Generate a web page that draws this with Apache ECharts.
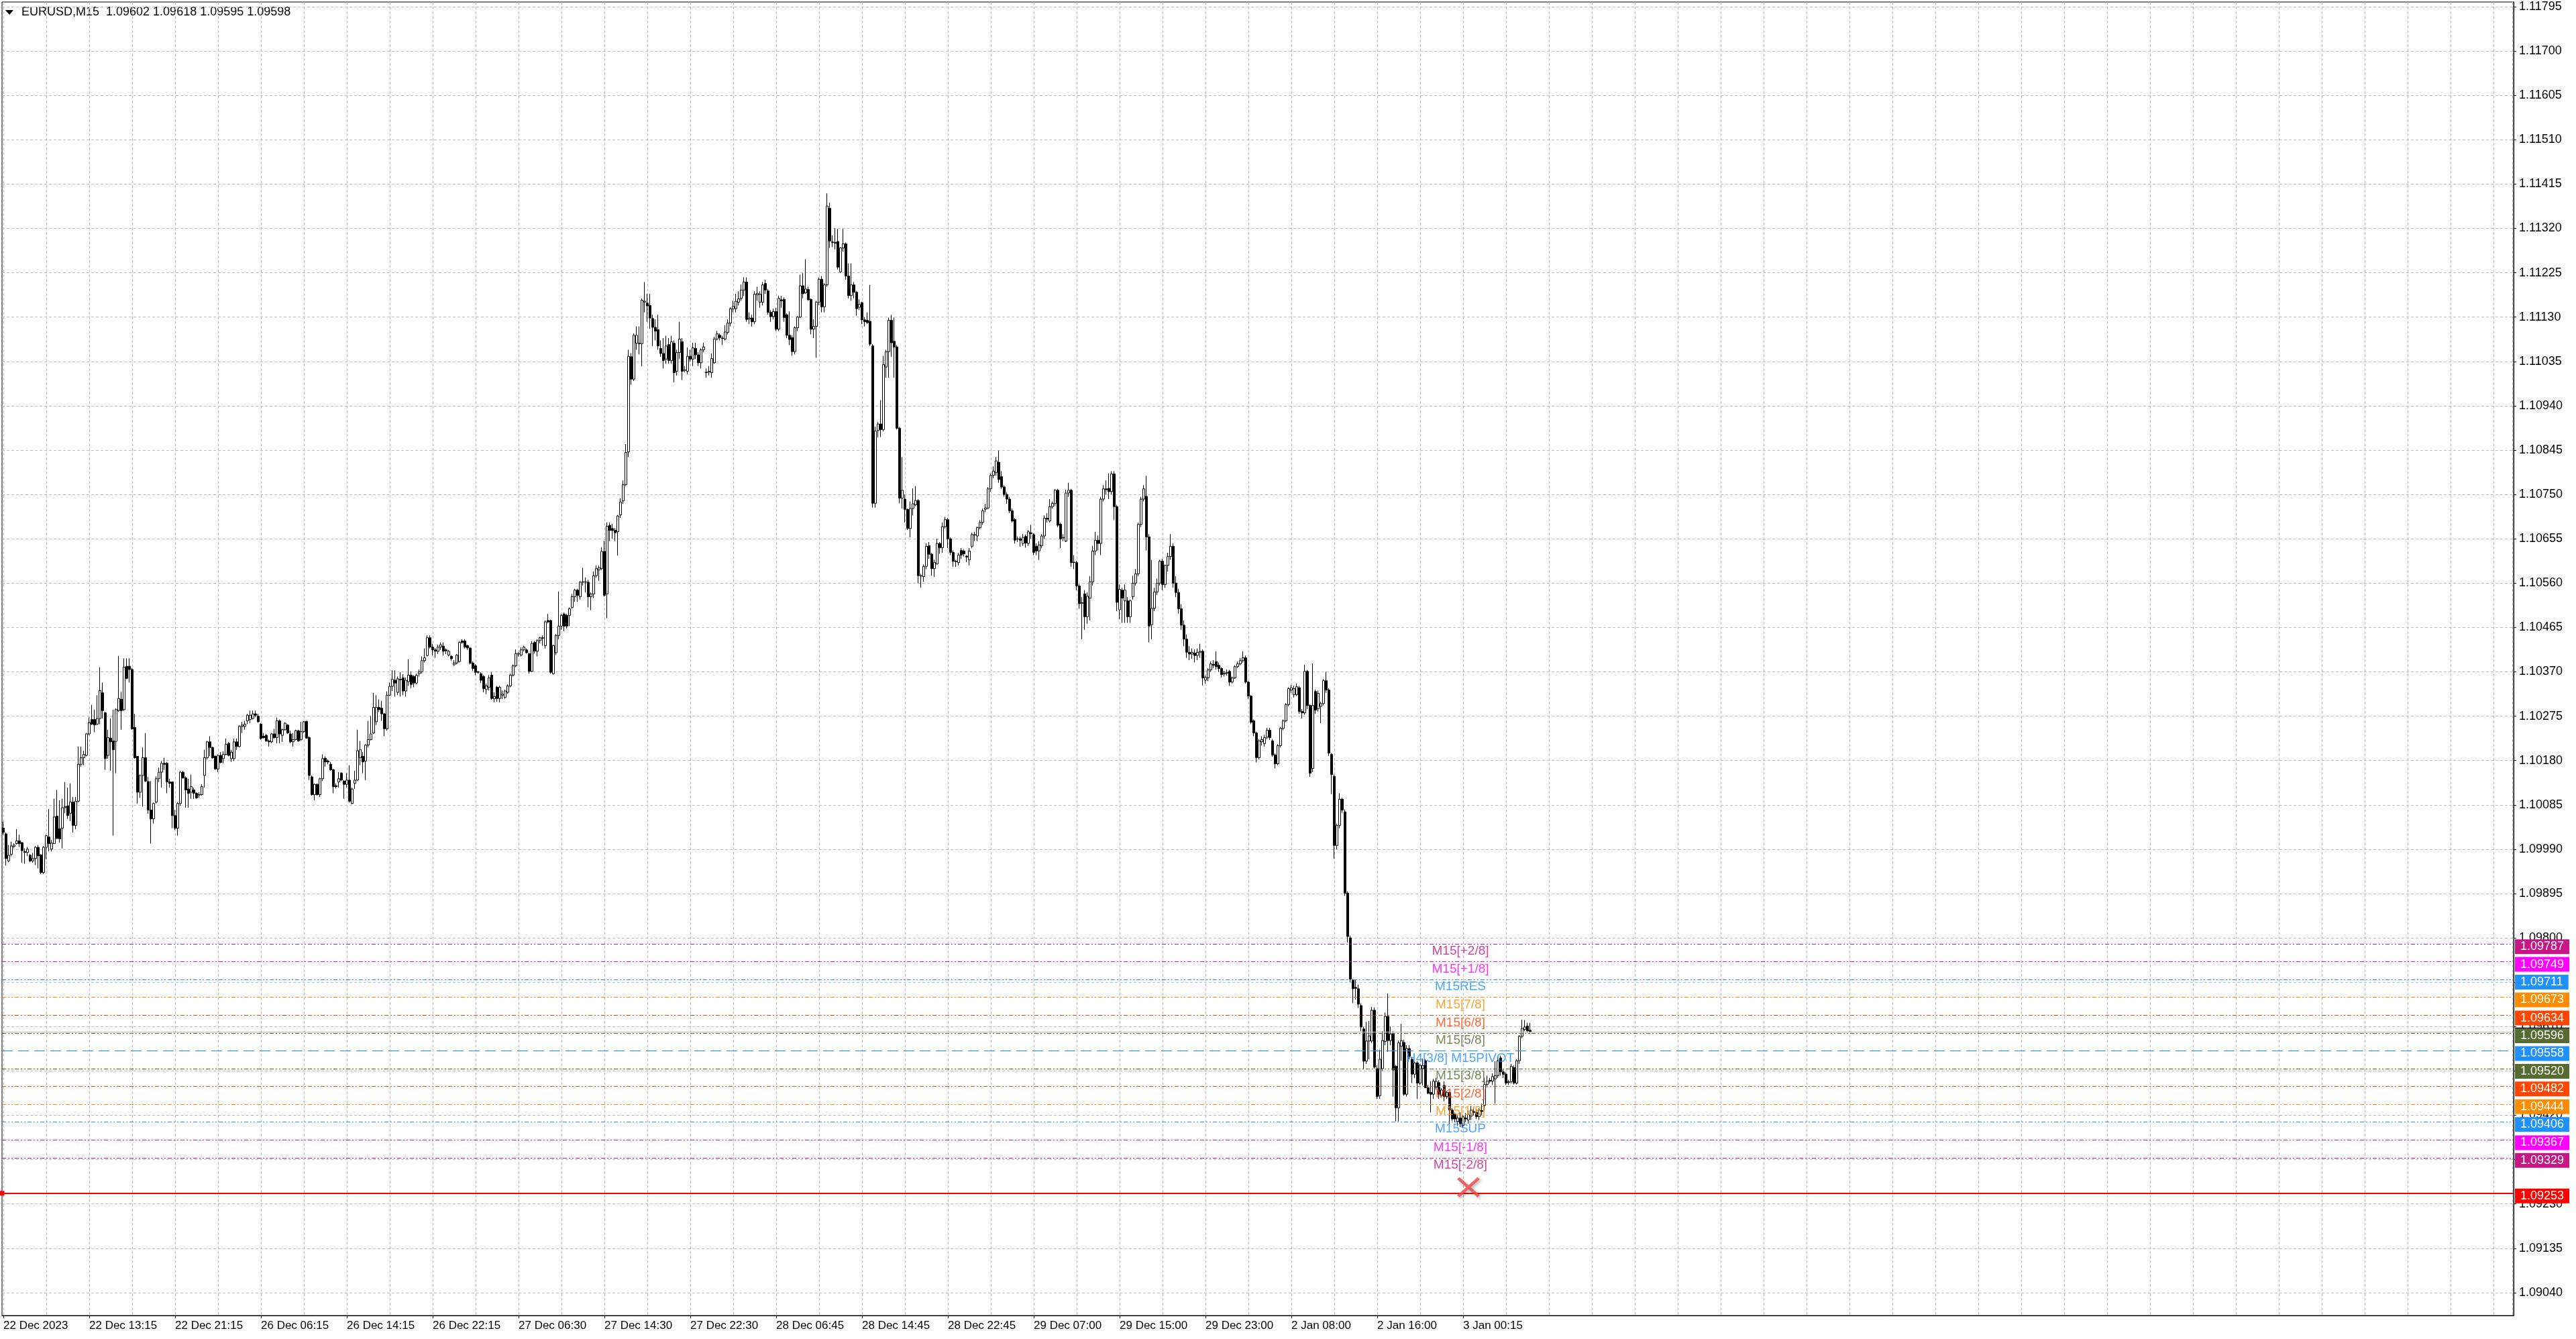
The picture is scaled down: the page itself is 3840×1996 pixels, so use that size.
<!DOCTYPE html>
<html><head><meta charset="utf-8">
<script src="https://cdn.jsdelivr.net/npm/echarts@6/dist/echarts.min.js"></script>
<style>html,body{margin:0;padding:0;background:#fff}#c{width:3840px;height:1996px}</style>
</head><body><div id="c"></div>
<script>
const SYMBOL = 'EURUSD,M15';
const PRICE_BASE = 1.09; // bar values below are points (0.00001) above this base, as [open, close, low, high]

const segA = [
[1035,1026,1021,1049],[1023,970,955,1026],[965,977,962,999],[979,997,975,1006],[996,999,992,1003],[1002,1008,1000,1033],[1008,1002,995,1021],[1004,987,961,1006],[985,983,959,992],[983,990,975,995],
[977,965,962,980],[965,970,961,982],[970,994,956,997],[994,976,949,999],[978,940,937,980],[940,994,937,997],[994,1019,969,1021],[1016,1002,985,1076],[990,1003,985,1010],[1002,1059,1002,1098],
[1061,1013,1012,1117],[1034,1012,1004,1095],[1035,1079,992,1098],[1079,1081,1067,1134],[1083,1062,1055,1122],[1067,1091,1050,1131],[1091,1041,1026,1102],[1041,1093,1033,1102],[1093,1172,1090,1210],[1172,1186,1167,1210],
[1186,1193,1170,1201],[1191,1237,1189,1239],[1237,1261,1234,1272],[1268,1258,1256,1299],[1268,1256,1241,1289],[1258,1270,1256,1320],[1270,1330,1258,1380],[1325,1287,1270,1347],[1282,1184,1160,1284],[1191,1229,1184,1246],
[1228,1220,1158,1270],[1222,1203,1019,1289],[1221,1289,1153,1292],[1287,1313,1284,1404],[1311,1287,1246,1327],[1289,1380,1286,1399],[1382,1356,1354,1399],[1382,1375,1347,1399],[1375,1248,1246,1378],[1251,1186,1184,1280],
[1189,1112,1088,1189],[1112,1148,1100,1150],[1148,1186,1081,1208],[1186,1136,1134,1239],[1135,1074,1066,1145],[1074,1055,1002,1136],[1055,1088,1045,1090],[1091,1141,1088,1146],[1141,1155,1134,1165],[1155,1174,1122,1179],
[1174,1172,1160,1186],[1174,1134,1110,1177],[1134,1131,1122,1141],[1134,1062,1035,1135],[1062,1035,1031,1074],[1035,1088,1019,1091],[1088,1155,1083,1158],[1155,1143,1141,1158],[1143,1117,1079,1146],[1119,1110,1079,1141],
[1112,1124,1098,1150],[1117,1110,1098,1122],[1110,1100,1098,1112],[1106,1107,1100,1112],[1107,1124,1105,1129],[1148,1186,1122,1203],[1186,1220,1182,1222],[1220,1208,1189,1232],[1208,1186,1184,1210],[1189,1162,1160,1191],
[1162,1191,1155,1193],[1191,1176,1174,1198],[1184,1193,1174,1200],[1193,1215,1191,1227],[1217,1191,1189,1220],[1184,1198,1177,1203],[1184,1220,1179,1227],[1220,1210,1203,1227],[1210,1253,1208,1256],[1253,1256,1239,1263],
[1253,1258,1246,1265],[1265,1277,1258,1280],[1268,1277,1260,1287],[1270,1280,1268,1287],[1280,1277,1273,1287],[1275,1263,1261,1280]
];
const segB = [
[1258,1227,1225,1260],[1232,1229,1227,1239],[1234,1222,1220,1237],[1222,1220,1210,1225],[1220,1237,1217,1239],[1237,1229,1227,1248],[1229,1265,1217,1272],[1265,1237,1217,1268],[1234,1246,1220,1248],[1246,1260,1244,1262],
[1256,1239,1237,1258],[1237,1220,1217,1244],[1220,1225,1210,1239],[1225,1244,1223,1246],[1244,1222,1220,1246],[1225,1242,1222,1263],[1242,1263,1239,1265],[1264,1228,1227,1265],[1229,1148,1138,1232],[1145,1107,1105,1148],
[1107,1129,1095,1131],[1129,1107,1105,1131],[1107,1141,1102,1143],[1141,1184,1136,1193],[1185,1177,1167,1189],[1179,1177,1172,1182],[1172,1160,1158,1177],[1160,1124,1110,1162],[1126,1124,1120,1131],[1134,1141,1122,1155],
[1153,1138,1136,1155],[1136,1129,1098,1138],[1129,1138,1122,1153],[1138,1093,1090,1170],[1088,1119,1086,1122],[1131,1138,1119,1158],[1138,1201,1136,1246],[1186,1203,1170,1222],[1189,1177,1153,1198],[1179,1213,1138,1215],
[1213,1225,1208,1265],[1225,1237,1223,1275],[1239,1294,1237,1325],[1263,1294,1256,1320],[1294,1289,1284,1311],[1292,1280,1265,1308],[1280,1248,1232,1282],[1248,1320,1244,1328],[1320,1339,1318,1347],[1339,1354,1329,1373],
[1352,1346,1317,1373],[1326,1355,1320,1360],[1353,1354,1317,1369],[1357,1329,1320,1365],[1329,1352,1317,1358],[1349,1363,1340,1397],[1363,1343,1335,1371],[1360,1346,1337,1363],[1346,1363,1343,1366],[1366,1370,1360,1375],
[1370,1394,1366,1403],[1394,1400,1390,1420],[1405,1443,1403,1448],[1443,1423,1420,1448],[1423,1417,1405,1430],[1417,1414,1400,1421],[1414,1423,1408,1428],[1423,1428,1417,1433],[1425,1414,1405,1433],[1417,1415,1408,1420],
[1406,1414,1403,1417],[1403,1398,1394,1406],[1385,1389,1383,1395],[1389,1406,1386,1408],[1392,1433,1390,1436],[1436,1433,1430,1440],[1436,1423,1420,1440],[1426,1421,1417,1428],[1421,1389,1386,1423],[1389,1377,1372,1392],
[1383,1369,1363,1386],[1370,1369,1366,1372],[1366,1352,1346,1369],[1360,1334,1326,1363],[1332,1340,1322,1345],[1337,1357,1330,1363],[1363,1313,1310,1369],[1312,1317,1305,1326],[1337,1313,1306,1340],[1313,1337,1305,1340],
[1320,1322,1312,1330],[1315,1329,1312,1332],[1326,1340,1323,1343],[1340,1363,1337,1366],[1363,1383,1360,1386],[1383,1409,1380,1418]
];
const segC = [
[1408,1409,1403,1412],[1406,1417,1403,1423],[1417,1423,1414,1426],[1417,1411,1409,1420],[1409,1371,1366,1411],[1371,1431,1369,1436],[1433,1414,1409,1436],[1414,1437,1403,1440],[1437,1443,1431,1445],[1442,1443,1426,1448],
[1426,1477,1420,1480],[1480,1477,1474,1494],[1480,1369,1366,1482],[1366,1426,1364,1428],[1411,1448,1406,1451],[1448,1468,1440,1542],[1468,1491,1460,1494],[1494,1468,1457,1497],[1491,1468,1463,1494],[1491,1505,1468,1508],
[1508,1531,1505,1537],[1531,1545,1520,1548],[1545,1534,1520,1548],[1531,1562,1525,1565],[1562,1563,1555,1593],[1563,1562,1540,1572],[1562,1531,1508,1567],[1531,1537,1502,1540],[1537,1576,1528,1585],[1576,1591,1572,1598],
[1588,1593,1565,1598],[1591,1628,1588,1637],[1628,1534,1531,1651],[1537,1682,1485,1690],[1684,1673,1650,1690],[1677,1673,1655,1687],[1673,1668,1650,1678],[1670,1704,1619,1706],[1706,1734,1700,1742],[1736,1771,1730,1780],
[1771,1840,1768,1858],[1841,2046,1830,2060],[2045,1997,1985,2053],[1997,2091,1993,2095],[2074,2091,2060,2110],[2073,2074,2050,2110],[2073,2166,2025,2170],[2162,2164,2140,2205],[2160,2154,2120,2180],[2155,2128,2105,2180],
[2127,2108,2068,2135],[2108,2100,2080,2125],[2103,2068,2060,2135],[2063,2052,2045,2080],[2052,2037,2020,2085],[2040,2068,2030,2090],[2071,2037,2030,2085],[2037,2077,2030,2090],[2074,2011,1990,2080],[2014,2054,2005,2060],
[2054,2083,2040,2120],[2077,2014,1995,2085],[2016,2017,2012,2025],[2014,2046,2008,2065],[2046,2040,2035,2060],[2040,2064,2025,2075],[2063,2049,2040,2075],[2049,2032,2025,2055],[2032,2060,2020,2063],[2060,2066,2055,2075],
[2012,2011,2000,2020],[2012,2014,2005,2025],[2011,2041,2000,2052],[2032,2083,2030,2088],[2083,2094,2080,2100],[2091,2086,2080,2095],[2085,2084,2070,2090],[2083,2098,2080,2113],[2097,2117,2093,2125],[2117,2148,2110,2151],
[2148,2153,2140,2165],[2148,2164,2140,2180],[2162,2169,2155,2185],[2170,2188,2165,2200],[2188,2205,2175,2215],[2205,2125,2120,2215],[2126,2128,2115,2140],[2128,2120,2110,2135],[2120,2179,2115,2185],[2178,2181,2165,2195],
[2162,2179,2150,2185],[2162,2199,2155,2205],[2202,2188,2180,2210],[2186,2140,2135,2190],[2140,2131,2120,2145],[2131,2142,2125,2148]
];
const segD = [
[2142,2104,2100,2150],[2104,2170,2100,2176],[2167,2165,2150,2175],[2168,2129,2120,2172],[2135,2091,2085,2138],[2091,2082,2070,2142],[2086,2056,2047,2091],[2056,2107,2050,2110],[2107,2130,2100,2132],[2130,2197,2128,2221],
[2197,2180,2170,2224],[2182,2190,2180,2254],[2189,2167,2165,2195],[2168,2104,2093,2170],[2104,2110,2085,2125],[2110,2162,2043,2165],[2162,2211,2155,2215],[2211,2152,2140,2218],[2152,2199,2140,2203],[2199,2368,2195,2395],
[2363,2293,2278,2375],[2291,2290,2280,2305],[2290,2288,2275,2320],[2292,2237,2232,2319],[2227,2278,2225,2280],[2278,2287,2270,2319],[2287,2218,2210,2290],[2218,2176,2170,2245],[2176,2199,2165,2245],[2199,2183,2170,2205],
[2183,2148,2133,2186],[2151,2157,2145,2168],[2161,2124,2115,2163],[2124,2120,2110,2130],[2123,2118,2115,2140],[2121,2072,2068,2199],[2068,1731,1722,2072],[1731,1886,1722,1895],[1887,1901,1872,1905],[1901,1889,1873,1952],
[1889,2028,1885,2047],[2023,2056,2000,2060],[2056,2123,2000,2129],[2123,2075,2045,2135],[2078,2066,2000,2129],[2066,1892,1889,2070],[1892,1742,1731,1895],[1742,1759,1720,1830],[1740,1718,1690,1750],[1718,1677,1674,1720],
[1677,1720,1658,1735],[1720,1730,1705,1763],[1728,1737,1725,1768],[1737,1576,1560,1740],[1576,1575,1550,1580],[1574,1596,1563,1600],[1596,1639,1590,1645],[1640,1622,1612,1648],[1622,1591,1576,1625],[1591,1604,1573,1610],
[1601,1645,1600,1655],[1645,1636,1623,1648],[1636,1681,1625,1690],[1681,1696,1677,1702],[1696,1655,1635,1700],[1655,1626,1620,1658],[1626,1607,1595,1630],[1607,1606,1595,1610],[1604,1620,1598,1625],[1630,1620,1612,1635],
[1629,1623,1617,1632],[1618,1616,1605,1620],[1610,1629,1598,1635],[1639,1664,1635,1668],[1663,1664,1650,1670],[1661,1679,1650,1681],[1679,1690,1675,1695],[1690,1715,1685,1720],[1718,1721,1712,1730],[1721,1762,1718,1766],
[1762,1791,1756,1795],[1791,1800,1785,1810],[1797,1822,1790,1830],[1819,1782,1775,1844],[1788,1766,1762,1800],[1766,1750,1745,1770],[1750,1740,1730,1755],[1740,1715,1710,1745],[1715,1693,1690,1720],[1696,1652,1645,1700],
[1655,1654,1648,1660],[1655,1652,1638,1660],[1645,1658,1640,1665],[1660,1646,1636,1664],[1645,1670,1640,1674],[1668,1666,1655,1685]
];
const segE = [
[1664,1626,1620,1667],[1639,1629,1620,1645],[1629,1642,1610,1650],[1640,1661,1635,1665],[1661,1699,1655,1705],[1699,1697,1690,1710],[1693,1724,1690,1740],[1724,1731,1720,1735],[1731,1759,1725,1762],[1759,1684,1680,1762],
[1686,1655,1635,1690],[1657,1658,1650,1665],[1650,1753,1648,1760],[1753,1759,1745,1775],[1759,1604,1595,1762],[1605,1604,1590,1620],[1604,1554,1545,1608],[1554,1516,1505,1558],[1518,1517,1440,1530],[1537,1488,1460,1545],
[1488,1532,1473,1540],[1528,1563,1480,1575],[1563,1629,1555,1640],[1629,1652,1620,1670],[1652,1645,1630,1662],[1645,1740,1620,1745],[1740,1762,1735,1770],[1762,1760,1750,1780],[1763,1756,1740,1795],[1756,1794,1750,1800],
[1794,1724,1695,1800],[1724,1519,1500,1728],[1503,1547,1483,1557],[1545,1528,1475,1550],[1522,1545,1475,1557],[1522,1488,1475,1530],[1488,1522,1475,1525],[1531,1560,1525,1576],[1560,1580,1555,1590],[1580,1686,1575,1690],
[1686,1740,1680,1745],[1740,1762,1735,1770],[1746,1659,1630,1790],[1659,1468,1433,1665],[1471,1506,1440,1610],[1506,1541,1500,1550],[1541,1560,1535,1570],[1560,1607,1555,1610],[1607,1557,1545,1612],[1557,1598,1550,1600],
[1598,1617,1585,1625],[1617,1639,1610,1665],[1639,1560,1550,1645],[1560,1540,1530,1575],[1540,1505,1495,1548],[1505,1470,1460,1515],[1470,1440,1425,1480],[1440,1412,1400,1450],[1412,1408,1395,1425],[1408,1412,1398,1420],
[1410,1405,1390,1418],[1405,1412,1395,1420],[1412,1414,1400,1430],[1414,1357,1341,1418],[1352,1358,1345,1362],[1357,1374,1350,1378],[1374,1387,1370,1392],[1386,1384,1378,1395],[1392,1381,1375,1414],[1384,1377,1370,1390],
[1377,1364,1358,1380],[1365,1367,1360,1372],[1367,1369,1362,1375],[1371,1348,1340,1374],[1348,1357,1345,1360],[1357,1381,1355,1384],[1381,1387,1378,1392],[1387,1394,1384,1400],[1394,1400,1390,1414],[1400,1348,1345,1405],
[1348,1318,1312,1350],[1318,1262,1258,1320],[1265,1239,1232,1268],[1239,1186,1176,1242],[1186,1222,1182,1226],[1220,1225,1212,1232],[1216,1229,1210,1235],[1230,1245,1226,1250],[1245,1229,1224,1250],[1222,1192,1188,1226],
[1192,1173,1163,1195],[1173,1212,1170,1215],[1212,1249,1208,1252],[1249,1265,1245,1268],[1265,1300,1262,1303],[1300,1334,1296,1337]
];
const segF = [
[1331,1336,1325,1342],[1321,1334,1315,1340],[1321,1338,1318,1345],[1336,1285,1280,1340],[1285,1282,1270,1290],[1282,1371,1278,1385],[1371,1298,1290,1374],[1298,1153,1145,1300],[1163,1298,1155,1388],[1328,1288,1280,1332],
[1291,1324,1285,1330],[1296,1302,1260,1306],[1302,1351,1298,1355],[1351,1331,1325,1370],[1331,1196,1190,1335],[1193,1150,1108,1196],[1146,998,970,1150],[998,1041,990,1045],[1041,1097,1035,1110],[1097,1074,1068,1100],
[1070,896,890,1075],[896,803,790,900],[800,711,705,805],[709,691,660,712],[694,692,668,710],[691,658,650,700],[655,609,600,660],[605,536,520,610],[536,579,530,620],[579,590,540,622],
[579,645,575,652],[645,523,520,651],[520,460,455,527],[462,540,455,560],[520,580,515,600],[578,632,570,640],[632,580,556,681],[580,594,570,610],[594,517,460,600],[525,436,407,528],
[436,575,407,580],[568,580,537,616],[576,465,462,582],[465,563,460,570],[563,546,540,570],[540,508,489,545],[508,532,500,536],[532,489,455,536],[489,527,485,530],[520,527,484,541],
[537,479,478,540],[479,467,465,485],[469,465,426,493],[465,493,455,498],[480,493,475,500],[490,465,455,495],[462,474,458,478],[484,460,450,493],[460,469,455,472],[469,431,402,470],
[431,412,408,435],[423,412,405,426],[407,414,398,420],[414,402,395,426],[398,417,393,420],[414,412,405,425],[410,422,402,430],[418,431,410,440],[428,426,420,437],[426,417,412,432],
[417,431,410,435],[430,428,420,445],[441,486,430,500],[486,493,480,505],[495,493,488,500],[493,503,485,510],[498,505,445,536],[505,537,500,545],[543,513,505,548],[513,508,500,518],
[508,489,485,512],[490,492,485,496],[492,525,488,530],[522,489,486,527],[489,537,486,540],[537,589,530,592],[589,606,585,625],[604,609,600,624],[611,601,597,618],[602,598,595,618]
];

const xTickLabels = ['22 Dec 2023','22 Dec 13:15','22 Dec 21:15','26 Dec 06:15','26 Dec 14:15','26 Dec 22:15','27 Dec 06:30','27 Dec 14:30','27 Dec 22:30','28 Dec 06:45','28 Dec 14:45','28 Dec 22:45','29 Dec 07:00','29 Dec 15:00','29 Dec 23:00','2 Jan 08:00','2 Jan 16:00','3 Jan 00:15'];
const yTickLabels = ['1.09040','1.09135','1.09230','1.09325','1.09420','1.09515','1.09610','1.09705','1.09800','1.09895','1.09990','1.10085','1.10180','1.10275','1.10370','1.10465','1.10560','1.10655','1.10750','1.10845','1.10940','1.11035','1.11130','1.11225','1.11320','1.11415','1.11510','1.11605','1.11700','1.11795'];

const levelNames  = ['M15[+2/8]','M15[+1/8]','M15RES','M15[7/8]','M15[6/8]','M15[5/8]','H4[3/8] M15PIVOT','M15[3/8]','M15[2/8]','M15[1/8]','M15SUP','M15[-1/8]','M15[-2/8]'];
const levelValues = [1.09787,1.09749,1.09711,1.09673,1.09634,1.09596,1.09558,1.09520,1.09482,1.09444,1.09406,1.09367,1.09329];
const levelColors = ['#C71585','#FF00FF','#1E90FF','#FF8C00','#FF4500','#556B2F','#1E90FF','#556B2F','#FF4500','#FF8C00','#1E90FF','#FF00FF','#C71585'];
const levelStyles = ['dashdotdot','dashdotdot','dashdotdot','dashdotdot','dashdotdot','dashdotdot','dash','dashdotdot','dashdotdot','dashdotdot','dashdotdot','dashdotdot','dashdotdot'];
const stopLevel = 1.09253;
const stopMark = [546, 1.09266];
const LABEL_BAR = 543;
const TOTAL_SLOTS = 936;
const Y_MIN = 1.08991, Y_MAX = 1.11805;

const bars = [].concat(segA, segB, segC, segD, segE, segF);
const toPrice = v => +(PRICE_BASE + v / 1e5).toFixed(5);
const candleData = bars.map(b => b.map(toPrice));
const categories = Array.from({length: TOTAL_SLOTS}, (_, i) => String(i));
const last = candleData[candleData.length - 1];
const bid = last[1];
const titleText = SYMBOL + '  ' + [last[0], last[3], last[2], last[1]].map(v => v.toFixed(5)).join(' ');

const FONT = 'Liberation Sans';
const GRID_LINE = {color: '#C0C0C0', type: [4, 3], width: 1};
const DASHDOTDOT = [6, 3, 2, 3, 2, 3];
const DASH = [16, 8];

const mlData = [{yAxis: bid, lineStyle: {color: '#C0C0C0', type: 'solid', width: 1}, label: {backgroundColor: '#000000'}}]
  .concat(levelValues.map((v, k) => ({
    yAxis: v,
    lineStyle: {color: levelColors[k], type: levelStyles[k] === 'dash' ? DASH : DASHDOTDOT, width: 1},
    label: {backgroundColor: levelColors[k]}
  })))
  .concat([{yAxis: stopLevel, lineStyle: {color: '#FF0000', type: 'solid', width: 2}, label: {backgroundColor: '#FF0000'},
            symbol: ['none', 'rect'], symbolSize: 7}]);

const chart = echarts.init(document.getElementById('c'), null, {renderer: 'canvas'});
chart.setOption({
  animation: false,
  backgroundColor: '#FFFFFF',
  graphic: [
    {type: 'polygon', shape: {points: [[8, 15], [20, 15], [14, 22]]}, style: {fill: '#000'}},
    {type: 'text', left: 32, top: 9, style: {text: titleText, font: '18px "Liberation Sans"', fill: '#000'}}
  ],
  grid: [
    {left: 3, right: 93, top: 3, bottom: 35, show: true, borderColor: '#000', borderWidth: 1, backgroundColor: 'transparent'},
    {left: 5, right: 95, top: 3, bottom: 35, show: false}
  ],
  xAxis: [
    {
      type: 'category', gridIndex: 0, data: categories, boundaryGap: true,
      axisLine: {show: true, onZero: false, lineStyle: {color: '#000', width: 1}},
      axisTick: {show: true, alignWithLabel: true, length: 4, lineStyle: {color: '#000'},
        interval: (i) => i % 32 === 0 && (i / 32) < xTickLabels.length},
      axisLabel: {show: true, align: 'left', margin: 7, fontSize: 17, fontFamily: FONT, color: '#000',
        interval: (i) => i % 32 === 0 && (i / 32) < xTickLabels.length,
        formatter: (val) => { const i = Number(val); return (i % 32 === 0 && xTickLabels[i / 32]) ? xTickLabels[i / 32] : ''; }},
      splitLine: {show: false}
    },
    {
      type: 'value', gridIndex: 1, min: 0, max: TOTAL_SLOTS - 1, interval: 16,
      axisLine: {show: false}, axisTick: {show: false}, axisLabel: {show: false},
      splitLine: {show: true, lineStyle: GRID_LINE}
    }
  ],
  yAxis: [
    {
      type: 'value', gridIndex: 0, position: 'right', min: Y_MIN, max: Y_MAX, scale: true,
      axisLine: {show: true, lineStyle: {color: '#000', width: 1}},
      axisTick: {show: true, inside: false, length: 4, lineStyle: {color: '#000'}, customValues: yTickLabels.map(Number)},
      axisLabel: {show: true, margin: 8, fontSize: 18, fontFamily: FONT, color: '#000',
        customValues: yTickLabels.map(Number), formatter: v => Number(v).toFixed(5)},
      splitLine: {show: true, lineStyle: GRID_LINE}
    },
    {type: 'value', gridIndex: 1, show: false, min: 0, max: 1, splitLine: {show: false}}
  ],
  series: [
    {
      type: 'candlestick', xAxisIndex: 0, yAxisIndex: 0, data: candleData, barWidth: 3, large: false,
      itemStyle: {color: '#FFFFFF', color0: '#000000', borderColor: '#000000', borderColor0: '#000000', borderColorDoji: '#000000', borderWidth: 1},
      markLine: {
        silent: true, symbol: ['none', 'none'], animation: false, precision: 5,
        label: {show: true, position: 'end', distance: 2, offset: [0, 4], color: '#FFFFFF', fontSize: 18, fontFamily: FONT,
          lineHeight: 20, padding: [2, 8, 0, 8], formatter: p => Number(p.value).toFixed(5)},
        data: mlData
      }
    },
    {
      type: 'scatter', xAxisIndex: 0, yAxisIndex: 0, symbolSize: 1, z: 5, silent: true,
      itemStyle: {color: 'rgba(0,0,0,0)'},
      label: {show: true, position: 'bottom', distance: 1, formatter: '{b}', fontSize: 19, fontFamily: FONT},
      data: levelValues.map((v, k) => ({name: levelNames[k], value: [LABEL_BAR, v], label: {color: levelColors[k]}}))
    },
    {
      type: 'scatter', xAxisIndex: 0, yAxisIndex: 0, z: 6, silent: true,
      symbol: 'path://M2,0 L10,8 L18,0 L20,2 L12,10 L20,18 L18,20 L10,12 L2,20 L0,18 L8,10 L0,2 Z',
      symbolSize: [34, 30],
      itemStyle: {color: '#F04848', shadowBlur: 4, shadowOffsetX: 2, shadowOffsetY: 2, shadowColor: 'rgba(0,0,0,0.4)'},
      data: [stopMark]
    }
  ]
});
</script>
</body></html>
